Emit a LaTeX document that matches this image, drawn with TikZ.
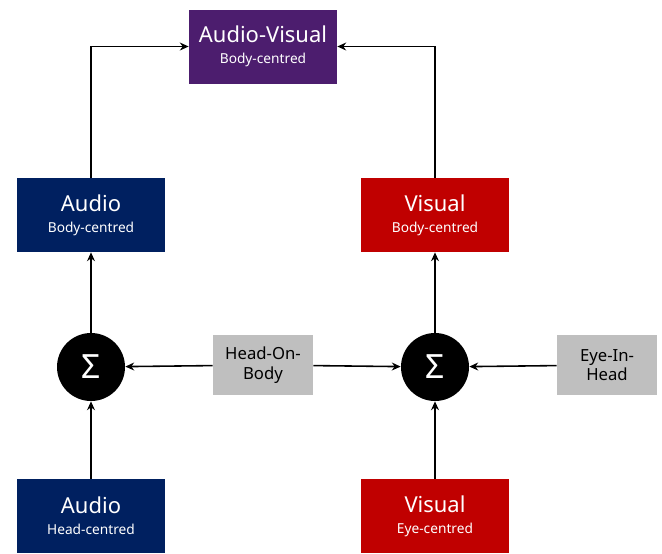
\documentclass[tikz,border=0pt]{standalone}
\usepackage{fontspec}
\setmainfont{Noto Sans}
\usepackage{tikz}
\usetikzlibrary{positioning,arrows.meta}

\definecolor{audioblue}{RGB}{0,32,96}
\definecolor{visualred}{RGB}{192,0,0}
\definecolor{avpurple}{RGB}{76,29,110}
\definecolor{refgrey}{RGB}{191,191,191}

\newcommand{\boxtext}[2]{{\fontsize{12.5}{14}\selectfont #1}\\[0pt]{\fontsize{7.8}{9}\selectfont #2}}

\begin{document}
\begin{tikzpicture}[
    x=0.2mm, y=-0.2mm,
    block/.style={rectangle, minimum width=29.6mm, minimum height=14.8mm, align=center, text=white, inner sep=0pt},
    frame/.style={rectangle, fill=refgrey, minimum width=20mm, minimum height=12mm, align=center, font=\fontsize{9.5}{11}\selectfont, inner sep=0pt},
    summer/.style={circle, fill=black, minimum size=13.6mm, inner sep=0pt, text=white, font=\fontsize{19}{19}\selectfont},
    arrow/.style={-{Stealth[length=5pt,width=4.5pt]}, line width=0.9pt}
]
\useasboundingbox (0,0) rectangle (662,553);

\node[block, fill=avpurple] (av) at (263,46.5) {\boxtext{Audio-Visual}{Body-centred}};
\node[block, fill=audioblue] (audiobody) at (91,215) {\boxtext{Audio}{Body-centred}};
\node[block, fill=visualred] (visualbody) at (435,215) {\boxtext{Visual}{Body-centred}};
\node[summer] (sumaudio) at (91,367) {Σ};
\node[summer] (sumvisual) at (435,367) {Σ};
\node[frame] (hob) at (263,365) {Head-On-\\Body};
\node[frame] (eih) at (607,365) {Eye-In-\\Head};
\node[block, fill=audioblue] (audiohead) at (91,516) {\boxtext{Audio}{Head-centred}};
\node[block, fill=visualred] (visualeye) at (435,516) {\boxtext{Visual}{Eye-centred}};

\draw[arrow] (audiohead) -- (sumaudio);
\draw[arrow] (visualeye) -- (sumvisual);
\draw[arrow] (hob) -- (sumaudio);
\draw[arrow] (hob) -- (sumvisual);
\draw[arrow] (eih) -- (sumvisual);
\draw[arrow] (sumaudio) -- (audiobody);
\draw[arrow] (sumvisual) -- (visualbody);
\draw[arrow] (audiobody) |- (av);
\draw[arrow] (visualbody) |- (av);
\end{tikzpicture}
\end{document}
